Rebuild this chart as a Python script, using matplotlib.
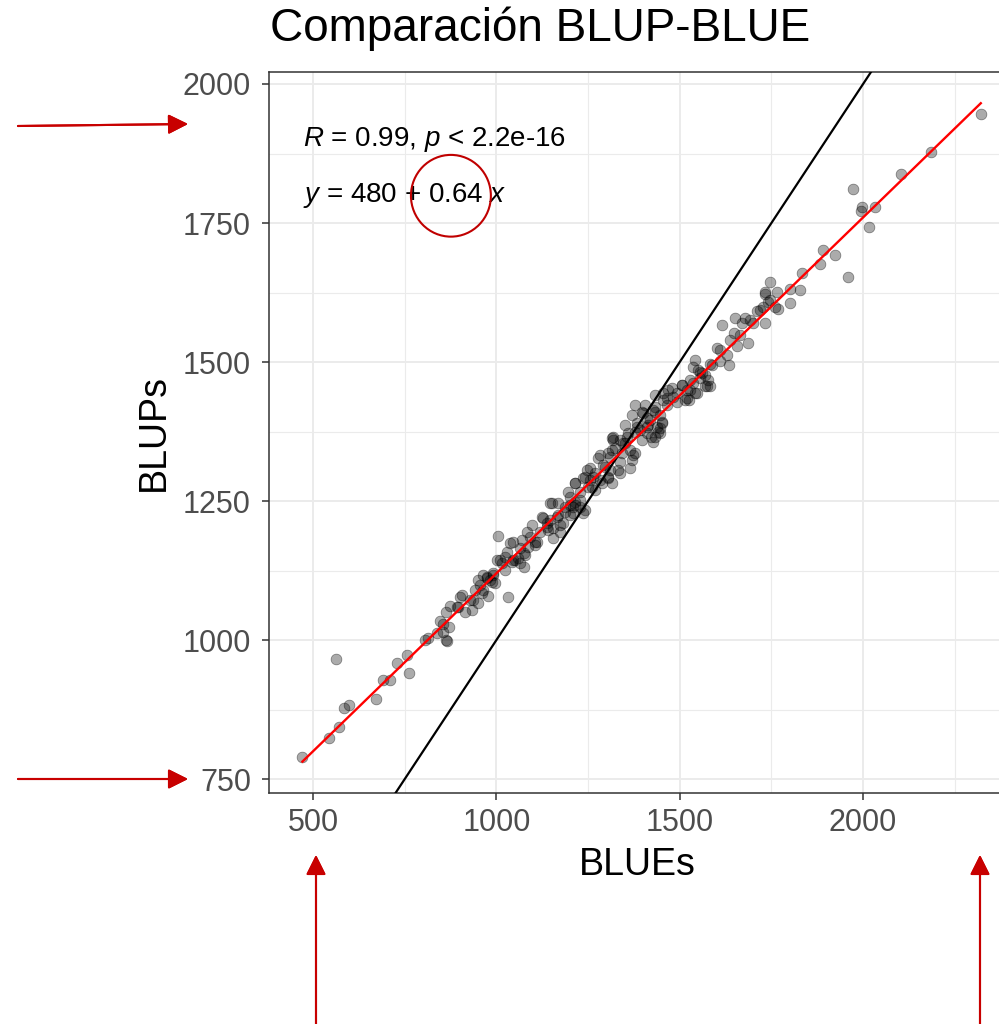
import matplotlib
matplotlib.use("Agg")
import matplotlib.pyplot as plt
from matplotlib.ticker import MultipleLocator
from matplotlib.patches import Ellipse
import numpy as np

plt.rcParams["font.family"] = ["Liberation Sans", "DejaVu Sans"]
plt.rcParams["mathtext.fontset"] = "custom"
plt.rcParams["mathtext.rm"] = "Liberation Sans"
plt.rcParams["mathtext.it"] = "Liberation Sans:italic"

# --------- DATA ----------
blues = [
    471, 544, 571, 585, 598, 562, 672, 692, 710, 730, 757, 762, 804, 813, 837,
    846, 863, 855, 871, 862, 864, 855, 892, 901,
    874, 896, 905, 915, 933, 937, 951, 942, 960, 978, 951, 964, 974, 987, 996,
    992, 1001, 1015, 1024, 1033, 1005, 1028, 1037, 1046, 1042, 1060, 1074, 1064,
    1069, 1087, 1092, 1096, 1083, 1110, 1119, 1128, 1137, 1155, 1155, 1146, 1169,
    1183, 1187, 1151, 1169, 1201, 1210, 1215,
    1201, 1215, 1215, 1228, 1242, 1251, 1255, 1269, 1278, 1287, 1292, 1305, 1310,
    1315, 1305, 1324, 1333, 1342, 1351, 1364, 1369, 1378, 1360, 1383, 1410, 1414,
    1433, 1446, 1451, 1396,
    1396, 1410, 1455, 1464, 1478, 1492, 1505, 1514, 1528, 1537, 1433, 1437, 1446,
    1383, 1319,
    1433, 1455, 1469, 1483, 1505, 1519, 1524, 1542, 1555, 1569, 1583, 1542, 1551,
    1569, 1578, 1601, 1610, 1628, 1633, 1615, 1637, 1647, 1656, 1651, 1669, 1687,
    1678, 1701, 1710, 1733, 1728, 1742, 1760, 1733,
    1746, 1733, 1765, 1801, 1828, 1833, 1801, 1769, 1883, 1892, 1924, 1958,
    1972, 1996, 1993, 2033, 2016, 2103, 2185, 2321,
    1337, 1351, 1370, 1392, 1419, 1405, 1433, 1378, 1315, 1283, 1255, 1269, 1228,
    1242, 1201, 1174, 1141, 1105, 1078, 1051, 1024, 983, 955, 928,
    1528, 1555, 1588, 1610, 1664, 1692, 1719, 1746,
    1146, 1174, 1237, 1228, 1210,
    1196, 1215, 1237, 1246, 1264,
    1283, 1305, 1315, 1296, 1310,
    1319, 1337, 1373, 1346, 1355,
    1378, 1400, 1410, 1423, 1428,
    1442, 1451, 1428, 1446, 1464,
    1492, 1519, 1546, 1560, 1573,
    1537, 1583, 1046, 1010, 992,
    974, 964, 1064, 1074, 1105,
    1124, 1137, 1164, 1187, 1260,
    1337, 1364,
]
blups = [
    790, 824, 843, 878, 884, 966, 894, 928, 928, 959, 973, 941, 1000, 1004, 1012,
    1035, 1051, 1029, 1024, 1001, 998, 1015, 1060, 1078,
    1061, 1060, 1081, 1051, 1054, 1072, 1066, 1090, 1084, 1080, 1108, 1117, 1111,
    1105, 1102, 1117, 1144, 1138, 1150, 1078, 1187, 1159, 1174, 1177, 1141, 1147,
    1132, 1165, 1180, 1168, 1186, 1207, 1195, 1177, 1195, 1219, 1204, 1183, 1201,
    1216, 1225, 1210, 1231, 1246, 1246, 1243, 1228, 1249,
    1258, 1243, 1282, 1267, 1294, 1276, 1309, 1300, 1327, 1282, 1315, 1291, 1306,
    1363, 1336, 1345, 1306, 1336, 1354, 1309, 1324, 1336, 1372, 1384, 1372, 1387,
    1366, 1381, 1390, 1360,
    1411, 1399, 1444, 1435, 1453, 1444, 1459, 1432, 1450, 1462, 1411, 1384, 1372,
    1390, 1366,
    1420, 1432, 1450, 1438, 1459, 1450, 1432, 1444, 1471, 1456, 1456, 1504, 1486,
    1477, 1468, 1525, 1501, 1513, 1495, 1567, 1540, 1552, 1528, 1579, 1570, 1534,
    1579, 1570, 1591, 1570, 1599, 1608, 1599, 1623,
    1644, 1626, 1626, 1632, 1630, 1660, 1606, 1596, 1677, 1701, 1692, 1653,
    1811, 1779, 1772, 1778, 1742, 1838, 1877, 1946,
    1360, 1387, 1405, 1378, 1396, 1423, 1441, 1423, 1342, 1333, 1288, 1270, 1252,
    1234, 1225, 1207, 1198, 1171, 1153, 1144, 1126, 1108, 1099, 1072,
    1468, 1482, 1495, 1522, 1549, 1576, 1594, 1612,
    1246, 1195, 1228, 1240, 1240,
    1267, 1282, 1291, 1306, 1294,
    1288, 1294, 1282, 1312, 1330,
    1360, 1321, 1333, 1354, 1366,
    1375, 1408, 1384, 1366, 1357,
    1375, 1393, 1414, 1405, 1423,
    1429, 1435, 1444, 1480, 1456,
    1491, 1497, 1144, 1144, 1120,
    1114, 1090, 1138, 1156, 1177,
    1222, 1210, 1222, 1240, 1276,
    1300, 1342,
]

# regression coefficients from lm(BLUPs ~ BLUEs)
intercept = 480
slope = 0.64
r_value = 0.99

x_ticks = [500, 1000, 1500, 2000]
y_ticks = [750, 1000, 1250, 1500, 1750, 2000]

# --------- FIGURE ----------
fig = plt.figure(figsize=(9.99, 10.24), dpi=100)
ax = fig.add_axes([0.2693, 0.2256, 0.7367, 0.7041])

ax.scatter(blues, blups, s=60, facecolor=(0, 0, 0, 0.33),
           edgecolor=(0, 0, 0, 0.45), linewidth=0.5, zorder=2)

ax.axline((0, 0), slope=1, color="black", lw=1.6, zorder=3)
fit_x = np.array([min(blues), max(blues)])
ax.plot(fit_x, intercept + slope * fit_x, color="red", lw=1.7, zorder=4)

ax.set_xlim(380, 2387)
ax.set_ylim(725, 2021.6)
ax.set_xticks(x_ticks)
ax.set_yticks(y_ticks)
ax.xaxis.set_minor_locator(MultipleLocator(250))
ax.yaxis.set_minor_locator(MultipleLocator(125))
ax.grid(which="major", color="#EBEBEB", lw=1.4)
ax.grid(which="minor", color="#EBEBEB", lw=0.8)
ax.set_axisbelow(True)
ax.tick_params(which="major", length=5, width=1.1, color="#333333",
               labelsize=22, labelcolor="#4D4D4D", pad=5)
ax.tick_params(axis="y", pad=8)
ax.tick_params(axis="x", pad=6)
ax.tick_params(which="minor", length=0)
for sp in ax.spines.values():
    sp.set_color("#333333")
    sp.set_linewidth(1.1)

ax.set_xlabel("BLUEs", fontsize=27, labelpad=6)
ax.set_ylabel("BLUPs", fontsize=27, labelpad=8)

ax.text(473, 1901, r"$R$ = %.2f, $p$ < 2.2e-16" % r_value, fontsize=20,
        va="center", ha="left", zorder=5)
ax.text(473, 1799, r"$y$ = %d + %.2f $x$" % (intercept, slope), fontsize=20,
        va="center", ha="left", zorder=5)
ax.add_patch(Ellipse((876, 1799), 218, 147, fill=False, edgecolor="#C00000",
                     lw=1.5, zorder=6))

fig.text(270 / 999, 1 - 29 / 1024, "Comparación BLUP-BLUE", fontsize=33,
         ha="left", va="center")

# red pointers around the panel
arrow_kw = dict(arrowstyle="-|>,head_length=0.6,head_width=0.3",
                mutation_scale=20, color="#C80000", lw=1.5,
                shrinkA=0, shrinkB=0)
for start, end in [((18, 898), (188, 900)), ((18, 245), (188, 245)),
                   ((316, 0), (316, 169)), ((980, 0), (980, 169))]:
    fig.add_artist(plt.annotate("", xy=end, xytext=start,
                                xycoords="figure pixels",
                                textcoords="figure pixels",
                                arrowprops=arrow_kw))

plt.savefig("out.png", dpi=100)
plt.close()
